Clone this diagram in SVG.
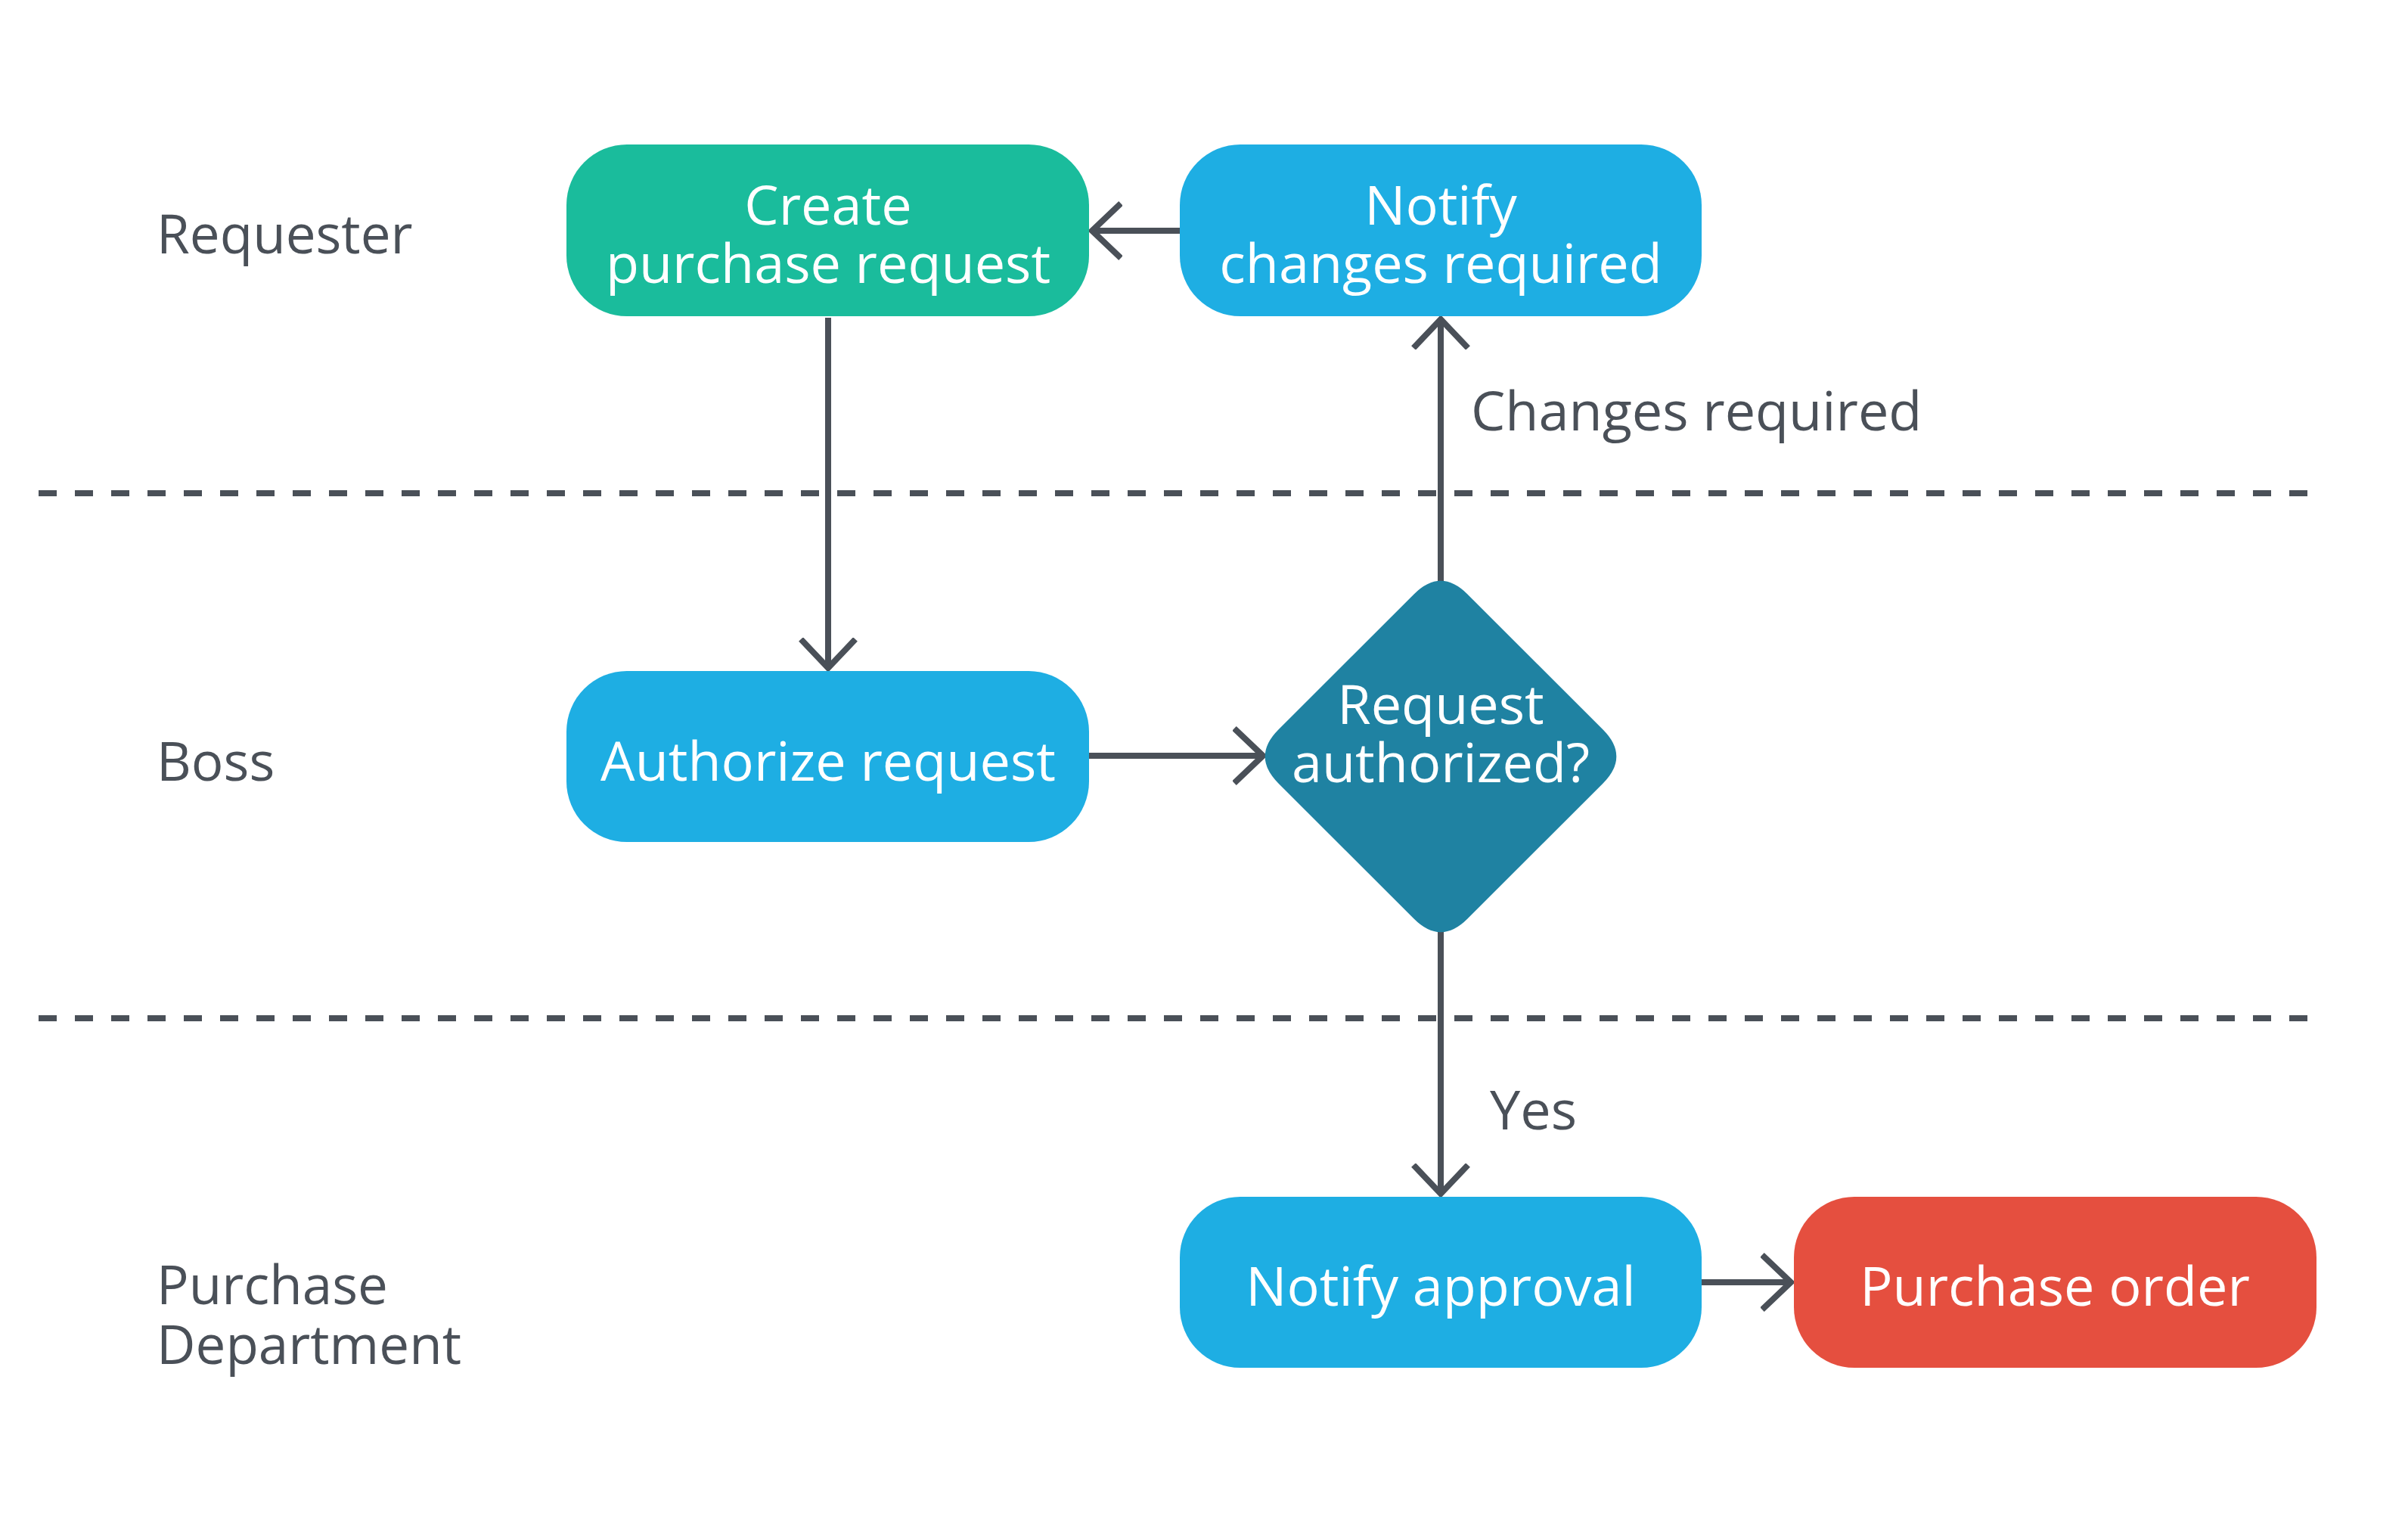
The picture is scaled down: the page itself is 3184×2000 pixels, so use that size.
<svg xmlns="http://www.w3.org/2000/svg" width="3184" height="2000" viewBox="0 0 3184 2000">
<style>
.lane{font-family:"Open Sans","Noto Sans",sans-serif;font-size:71px;fill:#4a5058}
.lbl{font-family:"Open Sans","Noto Sans",sans-serif;font-size:72px;fill:#4a5058}
.nt{font-family:"Open Sans","Noto Sans",sans-serif;font-size:72px;fill:#ffffff;text-anchor:middle}
.sep{stroke:#4a5058;stroke-width:8;stroke-dasharray:24 24;fill:none}
.conn{stroke:#4a5058;stroke-width:8;fill:none}
</style>
<defs>
<marker id="arr" viewBox="-40 -40 50 80" markerWidth="50" markerHeight="80" refX="0" refY="0" orient="auto" markerUnits="userSpaceOnUse">
<path d="M-38,-36 L0,0 L-38,36" fill="none" stroke="#4a5058" stroke-width="8"/>
</marker>
</defs>
<rect width="3184" height="2000" fill="#ffffff"/>
<g id="lanes">
<line class="sep" x1="51" y1="652" x2="3068" y2="652"/>
<line class="sep" x1="51" y1="1346" x2="3068" y2="1346"/>
<text class="lane" x="207" y="335">Requester</text>
<text class="lane" x="207" y="1032">Boss</text>
<text class="lane" x="207" y="1724">Purchase</text>
<text class="lane" x="207" y="1803">Department</text>
</g>
<g id="connectors">
<line class="conn" x1="1095" y1="420" x2="1095" y2="883" marker-end="url(#arr)"/>
<line class="conn" x1="1560" y1="305" x2="1444" y2="305" marker-end="url(#arr)"/>
<line class="conn" x1="1905" y1="770" x2="1905" y2="422" marker-end="url(#arr)"/>
<line class="conn" x1="1440" y1="999" x2="1670" y2="999" marker-end="url(#arr)"/>
<line class="conn" x1="1905" y1="1230" x2="1905" y2="1578" marker-end="url(#arr)"/>
<line class="conn" x1="2250" y1="1695" x2="2368" y2="1695" marker-end="url(#arr)"/>
<text class="lbl" x="1945" y="569">Changes required</text>
<text class="lbl" x="1970" y="1493">Yes</text>
</g>
<g id="create">
<rect x="749" y="191" width="691" height="227" rx="80" fill="#1abc9c"/>
<text class="nt" x="1095" y="297">Create</text>
<text class="nt" x="1095" y="374">purchase request</text>
</g>
<g id="notify-changes">
<rect x="1560" y="191" width="690" height="227" rx="80" fill="#1eaee3"/>
<text class="nt" x="1905" y="297">Notify</text>
<text class="nt" x="1905" y="374">changes required</text>
</g>
<g id="authorize">
<rect x="749" y="887" width="691" height="226" rx="80" fill="#1eaee3"/>
<text class="nt" x="1095" y="1032">Authorize request</text>
</g>
<g id="decision">
<path d="M1869.6,785.4 Q1905,750 1940.4,785.4 L2119.6,964.6 Q2155,1000 2119.6,1035.4 L1940.4,1214.6 Q1905,1250 1869.6,1214.6 L1690.4,1035.4 Q1655,1000 1690.4,964.6 Z" fill="#1f82a2"/>
<text class="nt" x="1905" y="957">Request</text>
<text class="nt" x="1905" y="1034">authorized?</text>
</g>
<g id="notify-approval">
<rect x="1560" y="1582" width="690" height="226" rx="80" fill="#1eaee3"/>
<text class="nt" x="1905" y="1726">Notify approval</text>
</g>
<g id="purchase-order">
<rect x="2372" y="1582" width="691" height="226" rx="80" fill="#e54f3f"/>
<text class="nt" x="2717" y="1726">Purchase order</text>
</g>
</svg>
